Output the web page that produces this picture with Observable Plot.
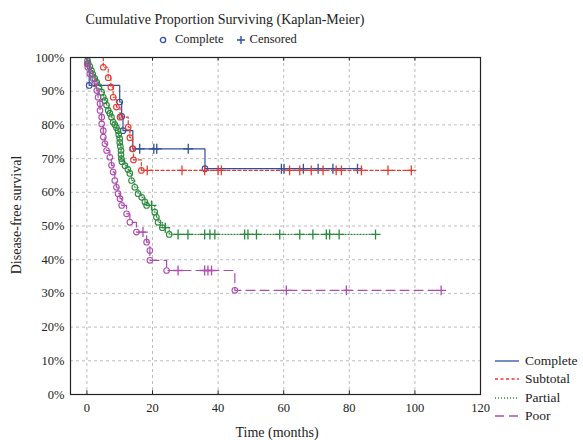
<!DOCTYPE html>
<html><head><meta charset="utf-8">
<script src="https://cdn.jsdelivr.net/npm/d3@7"></script>
<script src="https://cdn.jsdelivr.net/npm/@observablehq/plot@0.6"></script>
<style>
body{margin:0;background:#fff;}
#wrap{position:relative;width:583px;height:440px;font-family:"Liberation Serif","Times New Roman",serif;color:#222;overflow:hidden;}
#wrap svg{display:block;}
.ov{position:absolute;white-space:nowrap;}
#title{left:0;width:450px;top:12px;text-align:center;font-size:14px;}
#toplegend{left:157px;top:32px;font-size:12.5px;display:flex;align-items:center;gap:0;}
#xlab{left:0;width:554px;top:425px;text-align:center;font-size:14px;}
#ylab{left:17px;top:215px;font-size:14px;transform:translate(-50%,-50%) rotate(-90deg);}
#legend{left:495px;top:352px;font-size:13.5px;line-height:18.3px;}
#legend div{display:flex;align-items:center;}
#legend svg{margin-right:6px;}
</style></head>
<body>
<div id="wrap"></div>
<script>
// Kaplan-Meier estimates: [months, survival %, status] (status 1 = event/complete, 0 = censored, 2 = start)
const groups = ["Complete", "Subtotal", "Partial", "Poor"];
const colors = ["#2f4f9f", "#ea3a30", "#2a8a3c", "#b04cae"];
const dashes = ["none", "3,2.5", "1,2", "9,5"];
const xTicks = [0, 20, 40, 60, 80, 100, 120];
const yTicks = [0, 0.1, 0.2, 0.3, 0.4, 0.5, 0.6, 0.7, 0.8, 0.9, 1];

const complete = [
  [0, 100, 2], [0.7, 91.7, 1], [10.0, 86.8, 1], [10.6, 82.5, 1], [11.0, 78.3, 1],
  [14.0, 72.9, 1], [16.1, 72.9, 0], [20.4, 72.9, 0], [21.3, 72.9, 0], [30.9, 72.9, 0],
  [36.0, 67.0, 1], [59.3, 67.0, 0], [60.1, 67.0, 0], [66.0, 67.0, 0], [70.5, 67.0, 0],
  [75.0, 67.0, 0], [82.5, 67.0, 0]
];
const subtotal = [
  [0, 100, 2], [5.0, 97.1, 1], [6.5, 94.0, 1], [7.3, 91.2, 1], [8.0, 88.2, 1],
  [9.0, 85.3, 1], [10.1, 82.3, 1], [12.6, 79.3, 1], [13.1, 76.2, 1], [13.9, 72.9, 1],
  [14.2, 69.6, 1], [16.6, 66.5, 1], [18.4, 66.5, 0], [29.0, 66.5, 0], [35.9, 66.5, 0],
  [40.0, 66.5, 0], [41.0, 66.5, 0], [61.8, 66.5, 0], [64.9, 66.5, 0], [68.4, 66.5, 0],
  [72.0, 66.5, 0], [76.0, 66.5, 0], [77.6, 66.5, 0], [83.7, 66.5, 0], [91.8, 66.5, 0],
  [98.9, 66.5, 0]
];
const partial = [
  [0, 100, 2], [0.2, 99.1, 1], [0.4, 98.2, 1], [0.9, 97.3, 1], [1.4, 96.1, 1],
  [1.8, 95.0, 1], [2.4, 93.8, 1], [3.0, 92.6, 1], [3.7, 91.4, 1], [4.5, 89.7, 1],
  [5.0, 88.2, 1], [5.5, 87.2, 1], [6.0, 85.8, 1], [6.5, 84.3, 1], [7.0, 83.4, 1],
  [7.5, 82.3, 1], [8.0, 80.8, 1], [8.5, 80.1, 1], [9.0, 79.2, 1], [9.5, 78.3, 1],
  [9.7, 77.1, 1], [10.0, 76.0, 1], [10.0, 74.8, 1], [10.2, 73.6, 1], [10.4, 72.4, 1],
  [10.4, 71.2, 1], [10.5, 70.0, 1], [10.7, 69.1, 1], [11.6, 67.9, 1], [12.5, 66.8, 1],
  [13.1, 65.6, 1], [13.6, 63.5, 1], [14.6, 61.5, 1], [15.6, 59.6, 1], [16.7, 58.5, 1],
  [17.7, 57.1, 1], [18.2, 56.1, 1], [19.7, 56.1, 0], [20.7, 54.1, 1], [21.2, 52.6, 1],
  [21.7, 51.1, 1], [23.0, 49.5, 1], [23.9, 49.5, 0], [25.1, 47.5, 1], [27.8, 47.5, 0],
  [30.8, 47.5, 0], [35.9, 47.5, 0], [37.5, 47.5, 0], [39.0, 47.5, 0], [48.1, 47.5, 0],
  [49.1, 47.5, 0], [51.7, 47.5, 0], [58.8, 47.5, 0], [64.9, 47.5, 0], [68.9, 47.5, 0],
  [73.0, 47.5, 0], [74.0, 47.5, 0], [76.9, 47.5, 0], [88.0, 47.5, 0]
];
const poor = [
  [0, 100, 2], [0.1, 98.1, 1], [0.3, 97.1, 1], [0.9, 95.2, 1], [1.9, 93.7, 1],
  [2.4, 92.2, 1], [3.0, 90.2, 1], [3.4, 88.2, 1], [4.0, 86.3, 1], [4.0, 84.3, 1],
  [4.5, 82.3, 1], [4.5, 80.3, 1], [5.0, 78.3, 1], [5.0, 76.4, 1], [5.5, 74.4, 1],
  [6.0, 72.4, 1], [7.0, 70.4, 1], [7.5, 68.0, 1], [8.0, 66.0, 1], [8.5, 63.5, 1],
  [9.0, 61.5, 1], [9.5, 59.6, 1], [10.1, 58.1, 1], [10.6, 56.1, 1], [12.1, 53.6, 1],
  [13.1, 51.1, 1], [15.1, 48.2, 1], [17.1, 48.2, 0], [18.2, 45.2, 1], [19.2, 42.7, 1],
  [19.2, 39.8, 1], [24.3, 36.8, 1], [27.8, 36.8, 0], [35.9, 36.8, 0], [36.9, 36.8, 0],
  [38.0, 36.8, 0], [45.1, 30.9, 1], [60.8, 30.9, 0], [79.1, 30.9, 0], [108.0, 30.9, 0]
];

const series = [complete, subtotal, partial, poor];
const rows = series.flatMap((arr, i) => arr.map(([t, s, st]) => ({group: groups[i], t, s: s / 100, st})));

const curveMarks = groups.flatMap((g, i) => {
  const d = rows.filter(r => r.group === g);
  return [
    Plot.line(d, {x: "t", y: "s", curve: "step-after", stroke: colors[i], strokeWidth: 1.2, strokeDasharray: dashes[i]}),
    Plot.dot(d.filter(r => r.st === 1), {x: "t", y: "s", r: 2.8, stroke: colors[i], fill: "none", strokeWidth: 1.1}),
    Plot.dot(d.filter(r => r.st === 0), {x: "t", y: "s", symbol: "plus", r: 3.3, stroke: colors[i], strokeWidth: 1.3})
  ];
});

const chart = Plot.plot({
  width: 583, height: 440,
  marginLeft: 70, marginRight: 103, marginTop: 57, marginBottom: 46,
  style: {fontFamily: "'Liberation Serif','Times New Roman',serif", fontSize: "12.5px", color: "#222", background: "transparent"},
  x: {domain: [-5, 120], label: null},
  y: {domain: [0, 1], label: null},
  marks: [
    Plot.gridX(xTicks.slice(0, -1), {stroke: "#bdbdbd", strokeOpacity: 1, strokeDasharray: "3,3"}),
    Plot.gridY(yTicks.slice(1, -1), {stroke: "#bdbdbd", strokeOpacity: 1, strokeDasharray: "3,3"}),
    Plot.ruleX(xTicks.slice(0, -1), {y1: 0, y2: 0.011, stroke: "#222"}),
    Plot.ruleX(xTicks.slice(0, -1), {y1: 0.989, y2: 1, stroke: "#222"}),
    Plot.axisX(xTicks, {tickSize: 0, tickPadding: 9, fontSize: 12.5}),
    Plot.axisY(yTicks, {tickSize: 0, tickPadding: 6, tickFormat: d3.format(".0%"), fontSize: 12.5}),
    ...curveMarks,
    Plot.frame({stroke: "#222", strokeWidth: 1.2})
  ]
});

const wrap = document.getElementById("wrap");
wrap.appendChild(chart);

function add(id, html) {
  const el = document.createElement("div");
  el.className = "ov"; el.id = id; el.innerHTML = html;
  wrap.appendChild(el);
}
add("title", "Cumulative Proportion Surviving (Kaplan-Meier)");
add("toplegend",
  `<svg width="12" height="10"><circle cx="6" cy="5" r="2.6" fill="none" stroke="${colors[0]}" stroke-width="1.3"/></svg>` +
  `<span style="margin-left:6px">Complete</span>` +
  `<svg width="12" height="10" style="margin-left:11px"><path d="M2,5H10M6,1V9" stroke="${colors[0]}" stroke-width="1.4"/></svg>` +
  `<span style="margin-left:3px">Censored</span>`);
add("xlab", "Time (months)");
add("ylab", "Disease-free survival");
add("legend", groups.map((g, i) =>
  `<div><svg width="24" height="10"><line x1="0" x2="24" y1="5" y2="5" stroke="${colors[i]}" stroke-width="1.3" stroke-dasharray="${dashes[i]}"/></svg>${g}</div>`).join(""));
</script>
</body></html>
